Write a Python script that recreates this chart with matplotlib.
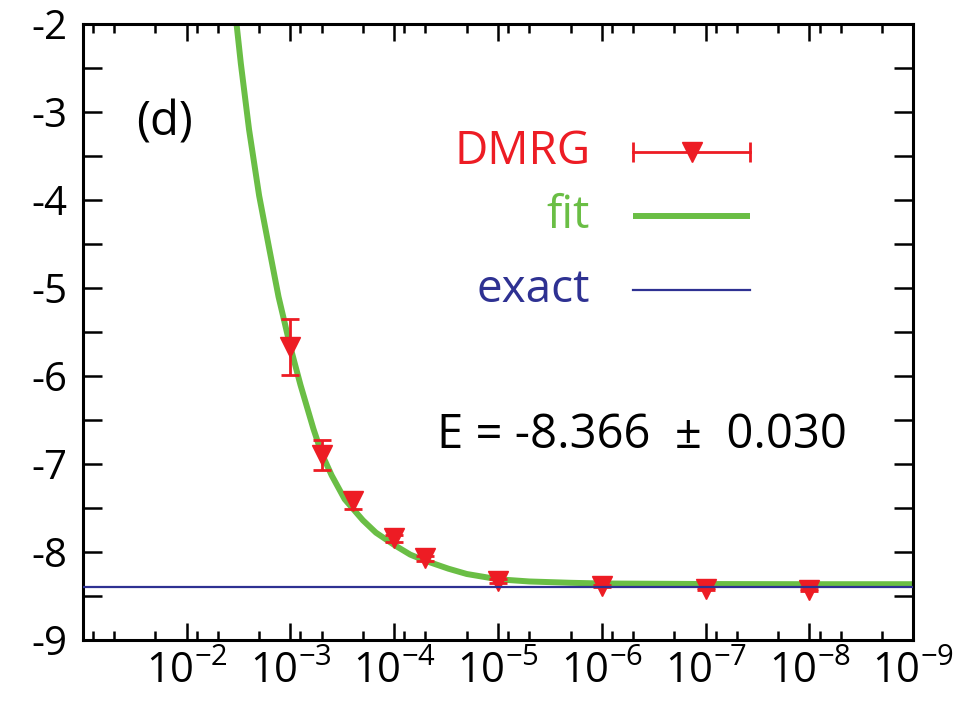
import matplotlib
matplotlib.use('Agg')
import matplotlib.pyplot as plt
from matplotlib.ticker import FixedLocator, LogLocator, FuncFormatter, MultipleLocator
import numpy as np

plt.rcParams['font.family'] = ['Open Sans', 'DejaVu Sans']
plt.rcParams['axes.unicode_minus'] = False

# DMRG data (truncation error vs energy)
dmrg_x = [1e-3, 5e-4, 2.5e-4, 1e-4, 5e-5, 1e-5, 1e-6, 1e-7, 1e-8]
dmrg_y = [-5.67, -6.90, -7.415, -7.845, -8.07, -8.33, -8.39, -8.42, -8.43]
dmrg_err = [0.32, 0.17, 0.10, 0.04, 0.03, 0.02, 0.01, 0.01, 0.01]

# fit curve
fit_x = [3.3e-3, 3e-3, 2.5e-3, 2e-3, 1.6e-3, 1.3e-3, 1e-3, 8e-4, 6e-4, 5e-4, 4e-4,
         3e-4, 2e-4, 1.5e-4, 1e-4, 7e-5, 5e-5, 3e-5, 2e-5, 1e-5, 5e-6, 2e-6, 1e-6,
         1e-7, 1e-8, 1e-9]
fit_y = [-2.0, -2.45, -3.2, -3.95, -4.55, -5.10, -5.67, -6.10, -6.60, -6.88, -7.13,
         -7.40, -7.64, -7.78, -7.92, -8.03, -8.10, -8.19, -8.25, -8.31, -8.335, -8.35,
         -8.358, -8.364, -8.366, -8.366]

exact = -8.394
x_ticks = [1e-2, 1e-3, 1e-4, 1e-5, 1e-6, 1e-7, 1e-8, 1e-9]

red = '#ED1C24'
green = '#6ABE45'
navy = '#2E3192'

fig = plt.figure(figsize=(9.71, 7.06), dpi=100)
ax = fig.add_axes([0.0852, 0.0935, 0.8554, 0.8725])

ax.plot(fit_x, fit_y, color=green, lw=4.3, zorder=2, solid_capstyle='butt')
ax.errorbar(dmrg_x, dmrg_y, yerr=dmrg_err, fmt='v', color=red, ms=15,
            elinewidth=2, capsize=6.5, capthick=2, zorder=3)
ax.axhline(exact, color=navy, lw=1.6, zorder=4)

ax.set_xscale('log')
ax.set_xlim(0.1, 1e-9)
ax.set_ylim(-9, -2)

ax.xaxis.set_major_locator(FixedLocator(x_ticks))
ax.xaxis.set_minor_locator(LogLocator(base=10, subs=(2.0, 5.0, 8.0), numticks=30))
ax.xaxis.set_major_formatter(FuncFormatter(
    lambda v, p: r'$\mathregular{10^{%d}}$' % int(round(np.log10(v)))))
ax.xaxis.set_minor_formatter(FuncFormatter(lambda v, p: ''))
ax.yaxis.set_major_locator(MultipleLocator(1))
ax.yaxis.set_minor_locator(MultipleLocator(0.5))

ax.tick_params(which='both', direction='in', top=True, right=True, width=1.8, colors='black')
ax.tick_params(axis='x', which='major', length=12, pad=8, labelsize=30)
ax.tick_params(axis='x', which='minor', length=6.5)
ax.tick_params(axis='y', which='both', length=13.5, pad=11, labelsize=29)
for s in ax.spines.values():
    s.set_linewidth(2.2)

ax.text(0.099, 0.839, '(d)', transform=ax.transAxes, fontsize=34, ha='center', va='center')

# legend drawn by hand: labels on the left, samples on the right
lx0, lx1 = 0.663, 0.803
ax.text(0.611, 0.792, 'DMRG', transform=ax.transAxes, fontsize=33, color=red, ha='right', va='center')
ax.plot([lx0, lx1], [0.792, 0.792], transform=ax.transAxes, color=red, lw=2)
ax.plot([lx0, lx1], [0.792, 0.792], transform=ax.transAxes, color=red, ls='none',
        marker='|', ms=14, mew=2)
ax.plot([0.733], [0.792], transform=ax.transAxes, color=red, marker='v', ms=15, ls='none')

ax.text(0.611, 0.688, 'fit', transform=ax.transAxes, fontsize=33, color=green, ha='right', va='center')
ax.plot([lx0, lx1], [0.688, 0.688], transform=ax.transAxes, color=green, lw=4.3, solid_capstyle='butt')

ax.text(0.611, 0.568, 'exact', transform=ax.transAxes, fontsize=33, color=navy, ha='right', va='center')
ax.plot([lx0, lx1], [0.568, 0.568], transform=ax.transAxes, color=navy, lw=1.6)

ax.text(0.426, 0.333, 'E = -8.366  \u00b1  0.030', transform=ax.transAxes, fontsize=34,
        ha='left', va='center')

fig.savefig('out.png', dpi=100)
